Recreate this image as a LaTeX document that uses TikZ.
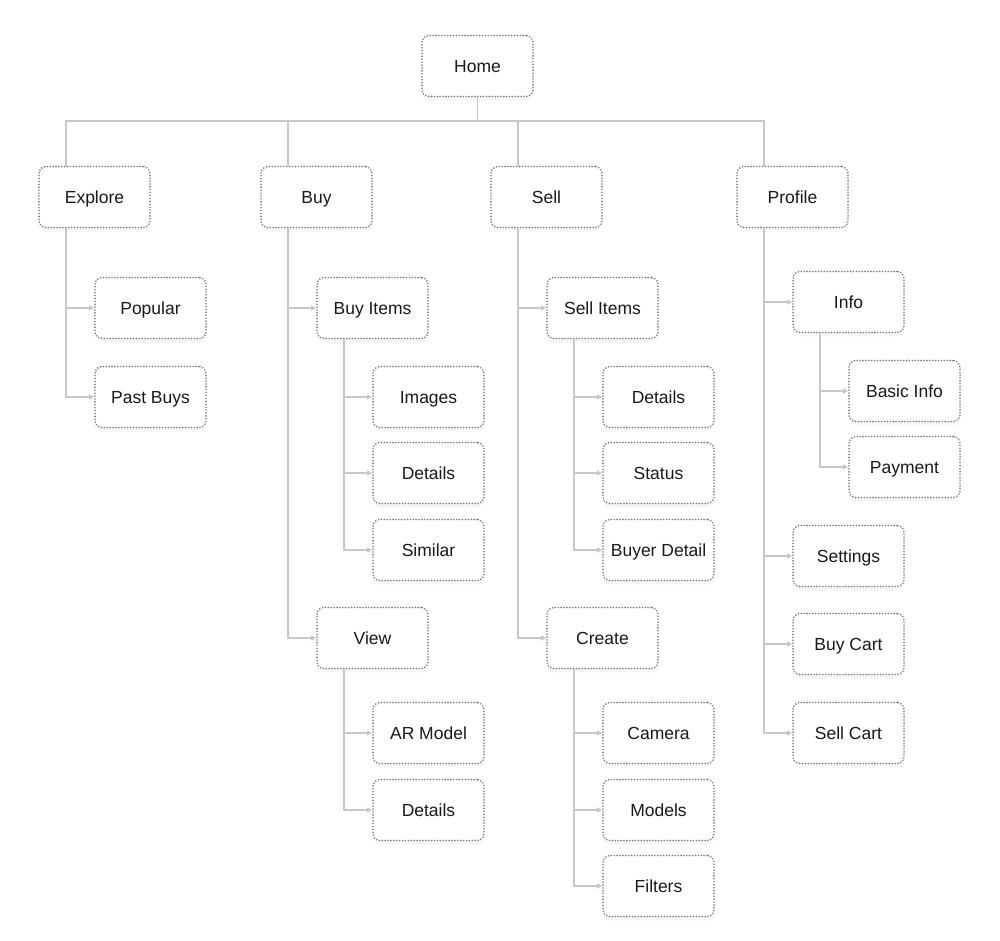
\documentclass[tikz,border=0pt]{standalone}
\usepackage{fontspec}
\setmainfont{Liberation Sans}
\usetikzlibrary{arrows.meta,shadows}
\definecolor{linegray}{HTML}{C8C8C8}
\definecolor{dotgray}{HTML}{7A7A7A}
\tikzset{
  box/.style={draw=dotgray, line width=1.8pt, dash pattern=on 0pt off 2.9pt, line cap=round,
    rounded corners=7pt, fill=white, minimum width=111pt, minimum height=61pt,
    inner sep=0pt, text height=14pt, text depth=2pt,
    font=\fontsize{17.5pt}{20pt}\selectfont, text=black!90,
    drop shadow={opacity=0.07, shadow xshift=0pt, shadow yshift=-4pt}},
  conn/.style={draw=linegray, line width=1.4pt},
  arr/.style={conn, -{Triangle[width=5pt,length=5pt]}}
}
\begin{document}
\begin{tikzpicture}[x=1pt,y=-1pt]
\useasboundingbox (0,0) rectangle (1000,940);
\node[box] (home) at (477.5,66) {Home};
\node[box] (explore) at (94.5,197) {Explore};
\node[box] (buy) at (316.5,197) {Buy};
\node[box] (sell) at (546.5,197) {Sell};
\node[box] (profile) at (792.5,197) {Profile};
\node[box] (popular) at (150.5,308) {Popular};
\node[box] (pastbuys) at (150.5,397) {Past Buys};
\node[box] (buyitems) at (372.5,308) {Buy Items};
\node[box] (images) at (428.5,397) {Images};
\node[box] (detailsA) at (428.5,473) {Details};
\node[box] (similar) at (428.5,550) {Similar};
\node[box] (view) at (372.5,638) {View};
\node[box] (armodel) at (428.5,733) {AR Model};
\node[box] (detailsB) at (428.5,810) {Details};
\node[box] (sellitems) at (602.5,308) {Sell Items};
\node[box] (detailsC) at (658.5,397) {Details};
\node[box] (status) at (658.5,473) {Status};
\node[box] (buyerdetail) at (658.5,550) {Buyer Detail};
\node[box] (create) at (602.5,638) {Create};
\node[box] (camera) at (658.5,733) {Camera};
\node[box] (models) at (658.5,810) {Models};
\node[box] (filters) at (658.5,886) {Filters};
\node[box] (info) at (848.5,302) {Info};
\node[box] (basicinfo) at (904.5,391) {Basic Info};
\node[box] (payment) at (904.5,467) {Payment};
\node[box] (settings) at (848.5,556) {Settings};
\node[box] (buycart) at (848.5,644) {Buy Cart};
\node[box] (sellcart) at (848.5,733) {Sell Cart};
\coordinate (bus) at (477.5,121);
% top tree
\draw[conn] (home.south) -- (bus);
\draw[conn] ([xshift=28pt]explore.north west) |- (bus) -| ([xshift=28pt]profile.north west);
\draw[conn] ([xshift=28pt]buy.north west) -- ([xshift=28pt]buy.north west |- bus);
\draw[conn] ([xshift=28pt]sell.north west) -- ([xshift=28pt]sell.north west |- bus);
% explore
\draw[arr] ([xshift=28pt]explore.south west) |- (popular.west);
\draw[arr] ([xshift=28pt]explore.south west) |- (pastbuys.west);
% buy
\draw[arr] ([xshift=28pt]buy.south west) |- (buyitems.west);
\draw[arr] ([xshift=28pt]buy.south west) |- (view.west);
\draw[arr] ([xshift=28pt]buyitems.south west) |- (images.west);
\draw[arr] ([xshift=28pt]buyitems.south west) |- (detailsA.west);
\draw[arr] ([xshift=28pt]buyitems.south west) |- (similar.west);
\draw[arr] ([xshift=28pt]view.south west) |- (armodel.west);
\draw[arr] ([xshift=28pt]view.south west) |- (detailsB.west);
% sell
\draw[arr] ([xshift=28pt]sell.south west) |- (sellitems.west);
\draw[arr] ([xshift=28pt]sell.south west) |- (create.west);
\draw[arr] ([xshift=28pt]sellitems.south west) |- (detailsC.west);
\draw[arr] ([xshift=28pt]sellitems.south west) |- (status.west);
\draw[arr] ([xshift=28pt]sellitems.south west) |- (buyerdetail.west);
\draw[arr] ([xshift=28pt]create.south west) |- (camera.west);
\draw[arr] ([xshift=28pt]create.south west) |- (models.west);
\draw[arr] ([xshift=28pt]create.south west) |- (filters.west);
% profile
\draw[arr] ([xshift=28pt]profile.south west) |- (info.west);
\draw[arr] ([xshift=28pt]profile.south west) |- (settings.west);
\draw[arr] ([xshift=28pt]profile.south west) |- (buycart.west);
\draw[arr] ([xshift=28pt]profile.south west) |- (sellcart.west);
\draw[arr] ([xshift=28pt]info.south west) |- (basicinfo.west);
\draw[arr] ([xshift=28pt]info.south west) |- (payment.west);
\end{tikzpicture}
\end{document}
